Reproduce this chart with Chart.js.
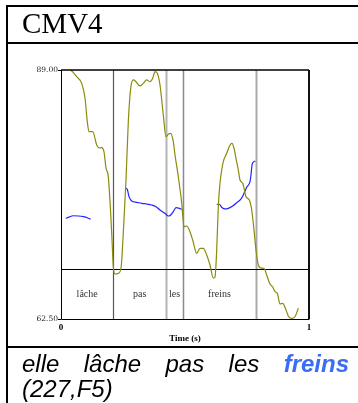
<!DOCTYPE html>
<html>
<head>
<meta charset="utf-8">
<script src="https://cdn.jsdelivr.net/npm/chart.js@4/dist/chart.umd.min.js"></script>
<style>
  html, body { margin: 0; padding: 0; background: #fff; width: 358px; height: 403px; overflow: hidden; position: relative; }
  canvas { position: absolute; left: 0; top: 0; }
  .rule { position: absolute; background: #000; }
  #title { position: absolute; left: 22px; top: 9px; font: 29px/28px "Liberation Serif", "Times New Roman", serif; color: #000; white-space: nowrap; }
  #caption { position: absolute; left: 22px; top: 351px; width: 327px; font: italic 24px/25px "Liberation Sans", Arial, sans-serif; text-align: justify; color: #000; }
  #caption b { color: #3b6cf4; }
</style>
</head>
<body>
<canvas id="c" width="358" height="403"></canvas>
<div class="rule" style="left:6px;top:5px;width:352px;height:2px"></div>
<div class="rule" style="left:6px;top:5px;width:2px;height:398px"></div>
<div class="rule" style="left:6px;top:42px;width:352px;height:2px"></div>
<div class="rule" style="left:6px;top:346px;width:352px;height:2px"></div>
<div id="title">CMV4</div>
<div id="caption">elle lâche pas les <b>freins</b> (227,F5)</div>
<script>
// Pitch track (olive): time in seconds, value
const timeF0 = [0.0403, 0.0633, 0.0835, 0.0968, 0.1060, 0.1129, 0.1278, 0.1440, 0.1544, 0.1641,
  0.1734, 0.1815, 0.1907, 0.2044, 0.2109, 0.2177, 0.2310, 0.2419, 0.2512, 0.2621,
  0.2714, 0.2810, 0.2915, 0.3024, 0.3185, 0.3319, 0.3456, 0.3589, 0.3698, 0.3790,
  0.3883, 0.3992, 0.4125, 0.4234, 0.4327, 0.4423, 0.4528, 0.4597, 0.4730, 0.4867,
  0.4960, 0.5069, 0.5173, 0.5310, 0.5472, 0.5605, 0.5738, 0.5875, 0.6008, 0.6141,
  0.6210, 0.6278, 0.6343, 0.6411, 0.6480, 0.6544, 0.6681, 0.6815, 0.6895, 0.6976,
  0.7056, 0.7149, 0.7218, 0.7327, 0.7460, 0.7593, 0.7690, 0.7782, 0.7863, 0.7956,
  0.8065, 0.8185, 0.8226, 0.8319, 0.8427, 0.8536, 0.8629, 0.8722, 0.8831, 0.8940,
  0.9073, 0.9181, 0.9302, 0.9435, 0.9569];
const valueF0 = [89.00, 88.29, 87.58, 86.02, 83.50, 82.44, 82.44, 81.02, 80.70, 80.73,
  80.30, 78.57, 77.65, 71.65, 68.07, 67.29, 67.36, 67.90, 71.65, 77.29,
  83.50, 87.05, 87.94, 87.75, 87.30, 87.58, 87.94, 87.75, 88.12, 88.82,
  88.65, 87.40, 84.21, 81.90, 82.16, 82.26, 81.37, 79.95, 77.65, 74.85,
  72.32, 72.40, 71.97, 70.91, 69.49, 70.02, 70.02, 69.31, 68.25, 66.86,
  66.97, 69.84, 74.45, 76.97, 78.36, 79.24, 80.13, 81.02, 81.20, 80.67,
  79.60, 78.36, 77.29, 76.94, 75.52, 75.16, 74.10, 71.97, 69.84, 68.25,
  67.93, 67.87, 67.71, 66.97, 66.22, 65.91, 65.41, 65.23, 64.10, 64.17,
  63.46, 62.74, 62.57, 62.74, 63.64];

// Second track (blue); null marks a break between voiced stretches
const timeF5 = [0.0190, 0.0294, 0.0496, 0.0698, 0.0899, 0.1060, 0.1198, 0.1600,
  0.2621, 0.2673, 0.2742, 0.2851, 0.3052, 0.3254, 0.3456, 0.3657, 0.3831, 0.3992,
  0.4194, 0.4327, 0.4423, 0.4528, 0.4637, 0.4770, 0.4867, 0.5500,
  0.6278, 0.6383, 0.6480, 0.6613, 0.6746, 0.6923, 0.7085, 0.7246, 0.7351, 0.7488,
  0.7621, 0.7661, 0.7702, 0.7754, 0.7835];
const valueF5 = [73.22, 73.32, 73.49, 73.46, 73.39, 73.28, 73.11, null,
  76.41, 76.30, 75.52, 75.06, 74.92, 74.81, 74.74, 74.63, 74.45, 74.10,
  73.75, 73.46, 73.57, 73.92, 74.35, 74.28, 74.17, null,
  74.71, 74.71, 74.39, 74.21, 74.28, 74.53, 74.88, 75.24, 75.70, 76.52,
  77.11, 77.83, 78.89, 79.18, 79.32];

// Word segmentation (seconds) and labels
const wordBounds = [0, 0.2109, 0.4234, 0.4919, 0.7863];
const words = ['lâche', 'pas', 'les', 'freins'];

// Axis ticks
const yTicks = [62.5, 89];
const xTicks = [0, 1];

// Styling
const OLIVE = '#8b8b0c';
const BLUE = '#2424ff';
const TIER_FRACTION = 0.2;              // share of plot height used by the word tier
const BOUND_COLORS = ['#555', '#b4b4b4', '#8a8a8a', '#aaaaaa'];
const BOUND_WIDTHS = [1.2, 2, 1.5, 2];

const toPoints = (ts, vs) => ts.map((t, i) => ({ x: t, y: vs[i] }));

const tierPlugin = {
  id: 'wordTier',
  beforeDatasetsDraw(chart) {
    const { ctx, chartArea: a, scales: { x } } = chart;
    const tierY = a.bottom - a.height * TIER_FRACTION;
    ctx.save();
    // boundary lines between words
    wordBounds.slice(1).forEach((t, i) => {
      const px = Math.round(x.getPixelForValue(t)) + 0.5;
      ctx.strokeStyle = BOUND_COLORS[i];
      ctx.lineWidth = BOUND_WIDTHS[i];
      ctx.beginPath();
      ctx.moveTo(px, a.top);
      ctx.lineTo(px, a.bottom);
      ctx.stroke();
    });
    // tier top line
    ctx.strokeStyle = '#000';
    ctx.lineWidth = 1;
    ctx.beginPath();
    ctx.moveTo(a.left, Math.round(tierY) + 0.5);
    ctx.lineTo(a.right, Math.round(tierY) + 0.5);
    ctx.stroke();
    // word labels
    ctx.fillStyle = '#333';
    ctx.font = '10px "Liberation Serif", serif';
    ctx.textAlign = 'center';
    ctx.textBaseline = 'middle';
    words.forEach((w, i) => {
      const cx = (x.getPixelForValue(wordBounds[i]) + x.getPixelForValue(wordBounds[i + 1])) / 2;
      ctx.fillText(w, cx, (tierY + a.bottom) / 2);
    });
    ctx.restore();
  },
  afterDatasetsDraw(chart) {
    const { ctx, chartArea: a } = chart;
    ctx.save();
    ctx.strokeStyle = '#000';
    ctx.lineWidth = 1;
    ctx.beginPath();
    ctx.moveTo(Math.round(a.left) + 0.5, a.top);
    ctx.lineTo(Math.round(a.left) + 0.5, Math.round(a.bottom) + 0.5);
    ctx.lineTo(a.right, Math.round(a.bottom) + 0.5);
    ctx.stroke();
    ctx.lineWidth = 1.6;
    ctx.beginPath();
    ctx.moveTo(a.left, a.top);
    ctx.lineTo(a.right, a.top);
    ctx.stroke();
    ctx.lineWidth = 2;
    ctx.strokeStyle = '#111';
    ctx.beginPath();
    ctx.moveTo(a.right, a.top);
    ctx.lineTo(a.right, a.bottom + 0.5);
    ctx.stroke();
    ctx.restore();
  }
};

new Chart(document.getElementById('c'), {
  type: 'line',
  data: {
    datasets: [
      {
        data: toPoints(timeF0, valueF0),
        borderColor: OLIVE,
        borderWidth: 1.2,
        pointRadius: 0,
        cubicInterpolationMode: 'monotone',
        fill: false
      },
      {
        data: toPoints(timeF5, valueF5),
        borderColor: BLUE,
        borderWidth: 1.2,
        pointRadius: 0,
        spanGaps: false,
        cubicInterpolationMode: 'monotone',
        fill: false
      }
    ]
  },
  options: {
    responsive: false,
    devicePixelRatio: 1,
    animation: false,
    events: [],
    layout: { padding: { left: 31, right: 49, top: 70, bottom: 59 } },
    plugins: { legend: { display: false }, tooltip: { enabled: false } },
    scales: {
      x: {
        type: 'linear',
        min: 0,
        max: 1,
        afterBuildTicks: s => { s.ticks = xTicks.map(v => ({ value: v })); },
        afterFit: s => { s.height = 25; },
        grid: { display: false, drawTicks: false },
        border: { display: false },
        ticks: {
          padding: 3,
          maxRotation: 0,
          color: '#000',
          font: { family: '"Liberation Serif", serif', size: 9, weight: 'bold' },
          callback: v => String(v)
        },
        title: {
          display: true,
          text: 'Time (s)',
          color: '#000',
          padding: 0,
          font: { family: '"Liberation Serif", serif', size: 9, weight: 'bold' }
        }
      },
      y: {
        type: 'linear',
        min: 62.5,
        max: 89,
        afterBuildTicks: s => { s.ticks = yTicks.map(v => ({ value: v })); },
        afterFit: s => { s.width = 30; },
        grid: { drawOnChartArea: false, drawTicks: true, tickLength: 3, color: '#000' },
        border: { display: false },
        ticks: {
          padding: 0,
          color: '#222',
          font: { family: '"DejaVu Serif", serif', size: 7.5 },
          callback: v => Number(v).toFixed(2)
        }
      }
    }
  },
  plugins: [tierPlugin]
});
</script>
</body>
</html>
